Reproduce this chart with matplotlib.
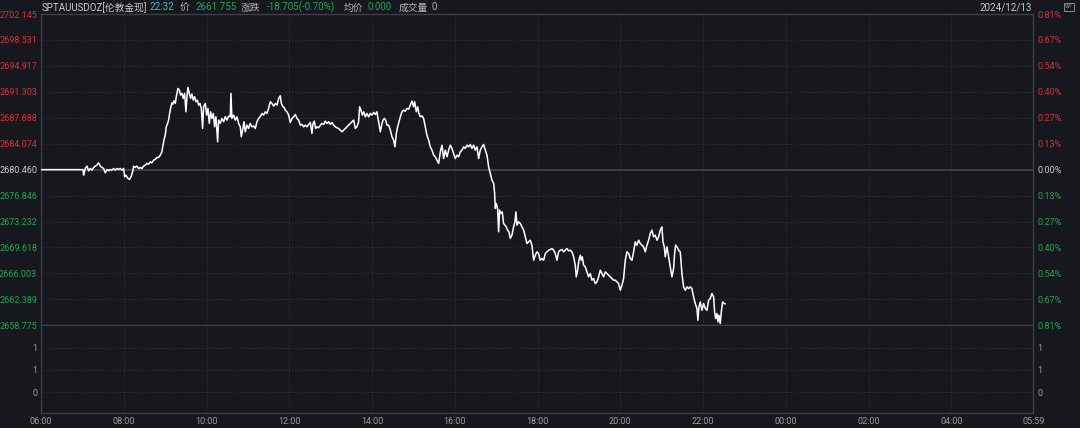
import matplotlib
matplotlib.use("Agg")
import matplotlib.pyplot as plt
from matplotlib.ticker import FixedLocator, FixedFormatter

plt.rcParams['font.family'] = ['Roboto', 'Noto Sans CJK SC', 'DejaVu Sans']

# ---- data ----
prev_close = 2680.460
price_levels = [2702.145, 2698.531, 2694.917, 2691.303, 2687.688, 2684.074, 2680.460,
                2676.846, 2673.232, 2669.618, 2666.003, 2662.389, 2658.775]
pct_labels = ['0.81%', '0.67%', '0.54%', '0.40%', '0.27%', '0.13%', '0.00%',
              '0.13%', '0.27%', '0.40%', '0.54%', '0.67%', '0.81%']
time_ticks = [0, 120, 240, 360, 480, 600, 720, 840, 960, 1080, 1200, 1320, 1439]
time_labels = ['06:00', '08:00', '10:00', '12:00', '14:00', '16:00', '18:00',
               '20:00', '22:00', '00:00', '02:00', '04:00', '05:59']
vol_ticks = [0, 0.5, 1.0]
vol_labels = ['0', '1', '1']

# minutes since 06:00
minutes = [
    0, 60.5, 61.4, 63.8, 66.2, 68.6, 71.1, 73.5, 75.9, 78.3, 80.7, 83.1, 85.6, 88.0, 90.4,
    92.8, 95.2, 97.7, 100.1, 102.5, 104.9, 107.3, 109.7, 112.2, 114.6, 117.0, 119.4, 120.9,
    122.8, 125.7, 128.1, 130.5, 132.5, 133.9, 136.3, 138.7, 141.2, 143.6, 146.0, 148.4,
    150.8, 153.3, 155.7, 158.1, 160.5, 162.9, 165.3, 167.8, 170.2, 172.6, 175.0, 176.5,
    177.9, 179.8, 181.3, 183.2, 184.7, 186.1, 188.1, 189.5, 191.0, 192.4, 194.4, 195.8,
    198.2, 200.2, 202.1, 204.0, 206.0, 207.9, 209.8, 211.3, 212.7, 214.7, 216.6, 218.5,
    220.5, 222.4, 224.3, 226.3, 228.2, 230.1, 232.1, 234.0, 235.4, 237.9, 239.8, 241.7,
    243.7, 245.6, 247.5, 249.5, 251.4, 253.3, 255.8, 257.2, 259.6, 262.0, 264.5, 266.9,
    269.3, 271.7, 274.1, 275.1, 276.5, 279.0, 281.4, 283.8, 286.2, 288.6, 290.1, 292.0,
    294.0, 295.9, 298.3, 300.7, 303.1, 305.6, 308.0, 310.4, 312.8, 315.2, 317.6, 320.1,
    322.5, 324.9, 327.3, 329.7, 332.1, 334.6, 337.0,
    339.5, 341.9, 344.3, 346.7, 348.2, 350.6, 352.5, 354.0, 356.4, 358.8, 361.2, 363.6,
    366.0, 368.5, 370.9, 373.3, 375.7, 378.1, 380.6, 383.0, 385.4, 387.8, 390.2, 392.6,
    394.1, 396.0, 398.0, 399.9, 402.3, 404.7, 407.1, 409.6, 412.0, 414.4, 416.8, 419.2,
    421.6, 424.1, 426.5, 428.9, 431.3, 433.7, 436.2, 438.6, 441.0, 443.4, 445.8, 448.2,
    450.7, 453.1, 455.5, 457.9, 460.3, 461.8, 463.7, 465.7, 467.6, 470.0, 472.4, 474.8,
    477.3, 479.7, 482.1, 484.5, 486.9, 488.4, 489.8, 491.8, 493.7, 495.6, 497.6, 499.5,
    501.4, 503.8, 506.3, 508.7, 511.1, 513.0, 515.0, 516.9, 518.8, 520.8, 523.2, 525.6,
    528.0, 530.4, 532.9, 535.3, 537.7, 540.1, 541.6, 544.0, 545.9, 547.8, 549.8, 552.2,
    554.6, 557.0, 559.4, 561.9, 564.3, 566.7, 569.1, 571.5, 573.9, 576.4, 578.8, 581.2,
    583.6, 586.0, 588.5, 590.9, 593.3, 595.7, 598.1, 600.5, 603.0, 605.4, 607.8, 610.2,
    612.6, 615.0, 617.5, 619.9, 622.3, 624.7, 627.1, 629.6, 632.0, 634.4, 636.8, 639.2,
    641.6, 644.1, 646.5, 648.9,
    653.7, 656.2, 657.6, 658.6, 660.0, 661.9, 663.4, 664.8, 666.8, 668.7, 670.6, 672.6,
    674.5, 676.4, 678.4, 680.3, 682.7, 685.1, 687.1, 688.5, 690.0, 692.4, 694.8, 697.2,
    699.7, 702.1, 704.5, 706.9, 709.3, 711.7, 714.2, 716.6, 719.0, 721.4, 723.8, 726.2,
    728.7, 731.1, 733.5, 735.9, 738.3, 740.8, 743.2, 745.6, 748.0, 750.4, 752.8, 755.3,
    757.7, 760.1, 762.5, 764.9, 767.3, 769.8, 772.2, 774.6, 776.0, 778.0, 779.9, 781.9,
    783.3, 784.8, 786.7, 789.1, 791.5, 793.9, 796.4, 798.8, 801.2, 803.6, 806.0, 808.4,
    810.9, 813.3, 815.7, 818.1, 820.5, 823.0, 825.4, 827.8, 830.2, 832.6, 835.0, 837.5,
    839.9, 842.3, 844.7, 847.1, 849.5, 852.0, 854.4, 856.8, 859.2, 861.6, 864.0, 866.5,
    868.9, 871.3, 873.7, 876.1, 878.6, 881.0, 883.4, 885.8, 888.2, 890.6, 893.1, 895.5,
    897.9, 900.3, 901.8, 903.7, 905.1, 907.6, 910.0, 912.4, 914.8, 917.2, 918.7, 920.1,
    922.1, 924.5, 926.9, 929.3, 931.7, 934.2, 936.6, 939.0, 941.4, 943.8, 946.2, 948.7,
    951.1, 952.5, 954.0, 955.9, 958.3, 960.7, 963.2, 965.6, 968.0, 970.4, 972.8, 975.3,
    976.7, 978.2, 980.1, 981.5, 983.0, 984.9, 986.4, 988.3, 990.7, 992.0,
]

prices = [
    2680.46, 2680.46, 2679.69, 2680.62, 2680.95, 2680.30, 2680.62, 2680.39, 2680.76, 2680.95,
    2681.09, 2681.41, 2680.95, 2680.76, 2680.62, 2680.02, 2680.48, 2680.30, 2680.48, 2680.39,
    2680.62, 2680.39, 2680.62, 2680.48, 2680.62, 2680.39, 2680.62, 2679.46, 2679.69, 2679.23,
    2679.09, 2679.55, 2680.16, 2680.95, 2680.76, 2680.95, 2680.62, 2680.76, 2680.62, 2680.95,
    2681.09, 2681.32, 2681.23, 2681.55, 2681.41, 2681.78, 2681.88, 2682.16, 2682.16, 2682.48,
    2682.95, 2683.88, 2684.57, 2685.27, 2686.43, 2686.90, 2687.36, 2688.29, 2689.22, 2689.78,
    2689.59, 2690.06, 2689.69, 2690.62, 2691.78, 2691.55, 2690.85, 2691.08, 2690.38, 2691.08,
    2688.52, 2690.62, 2691.92, 2691.08, 2690.38, 2690.99, 2690.15, 2690.62, 2689.92, 2690.15,
    2689.45, 2689.69, 2688.99, 2686.20, 2689.22, 2689.69, 2688.06, 2688.99, 2686.90, 2688.52,
    2687.59, 2688.29, 2686.43, 2687.83, 2684.34, 2687.36, 2686.90, 2687.59, 2687.13, 2687.83,
    2687.36, 2687.92, 2687.83, 2691.08, 2687.59, 2688.06, 2687.36, 2687.83, 2686.90, 2686.43,
    2685.04, 2685.97, 2687.13, 2685.74, 2686.67, 2686.20, 2686.90, 2686.43, 2686.53, 2686.20,
    2687.13, 2687.59, 2687.83, 2688.29, 2688.06, 2688.52, 2688.29, 2688.99, 2689.92, 2689.69,
    2689.31,
    2689.68, 2689.45, 2690.38, 2690.75, 2689.68, 2689.22, 2689.08, 2688.75, 2688.52, 2688.06,
    2687.03, 2687.59, 2687.82, 2688.15, 2687.59, 2687.36, 2686.66, 2686.76, 2686.43, 2686.66,
    2686.43, 2686.76, 2687.03, 2685.50, 2686.89, 2687.22, 2686.20, 2686.43, 2686.29, 2686.66,
    2686.89, 2686.76, 2687.22, 2686.89, 2687.13, 2686.76, 2687.03, 2686.66, 2686.43, 2686.29,
    2686.20, 2685.97, 2685.73, 2685.97, 2686.20, 2686.43, 2686.66, 2686.89, 2687.13, 2687.36,
    2686.20, 2686.43, 2687.13, 2689.22, 2688.75, 2688.06, 2688.52, 2687.82, 2688.29, 2687.82,
    2688.29, 2688.06, 2688.43, 2688.15, 2688.52, 2687.59, 2686.89, 2685.73, 2686.66, 2687.36,
    2687.59, 2687.36, 2686.66, 2686.66, 2685.97, 2685.04, 2684.57, 2683.64, 2685.50, 2686.43,
    2687.13, 2687.82, 2688.52, 2688.75, 2688.61, 2688.99, 2688.89, 2689.45, 2690.01, 2689.22,
    2689.92, 2688.52, 2689.22, 2688.29, 2687.82, 2687.96, 2687.59, 2686.43, 2685.27, 2684.57,
    2683.64, 2683.18, 2682.48, 2682.25, 2681.78, 2681.32, 2682.94, 2683.87, 2682.01, 2683.18,
    2682.25, 2683.18, 2683.87, 2683.41, 2682.71, 2682.01, 2682.48, 2682.25, 2682.94, 2683.18,
    2683.64, 2683.41, 2683.87, 2683.64, 2683.97, 2683.41, 2683.87, 2683.18, 2683.64, 2682.01,
    2683.18, 2683.64, 2683.97, 2683.18, 2682.48, 2680.85,
    2679.00, 2678.54, 2677.14, 2675.05, 2675.75, 2675.05, 2671.80, 2674.82, 2674.35, 2674.58,
    2672.96, 2672.73, 2672.49, 2672.03, 2671.80, 2670.87, 2671.33, 2672.49, 2673.19, 2674.58,
    2672.73, 2673.19, 2672.96, 2672.49, 2672.03, 2671.10, 2670.17, 2670.40, 2670.63, 2669.94,
    2667.84, 2668.54, 2669.01, 2668.77, 2667.84, 2668.08, 2667.84, 2668.77, 2669.01, 2669.24,
    2669.33, 2669.47, 2669.24, 2668.77, 2667.84, 2669.01, 2669.24, 2669.33, 2669.01, 2669.24,
    2669.47, 2669.15, 2669.24, 2669.01, 2668.31, 2667.15, 2665.52, 2666.45, 2667.84, 2668.54,
    2667.84, 2668.31, 2667.15, 2666.92, 2666.22, 2665.52, 2665.99, 2665.06, 2665.29, 2664.59,
    2664.82, 2665.52, 2666.45, 2665.99, 2665.52, 2666.22, 2665.99, 2665.75, 2665.52, 2665.29,
    2665.06, 2665.06, 2664.82, 2664.59, 2663.66, 2664.36, 2665.29, 2667.84, 2669.01, 2668.77,
    2668.08, 2667.84, 2669.01, 2670.40, 2669.94, 2670.63, 2670.17, 2669.94, 2669.70, 2669.01,
    2669.94, 2670.63, 2671.56, 2672.03, 2671.10, 2671.33, 2670.63, 2671.10, 2672.03, 2672.49,
    2670.40, 2669.70, 2668.31, 2669.70, 2668.31, 2666.92, 2665.52, 2666.68, 2668.77, 2669.94,
    2669.70, 2669.24, 2669.01, 2665.99, 2664.13, 2663.66, 2664.13, 2663.89, 2664.13, 2663.89,
    2662.73, 2661.80, 2661.11, 2659.48, 2661.34, 2662.03, 2660.87, 2661.80, 2661.11, 2660.87,
    2662.27, 2662.50, 2663.20, 2662.73, 2660.64, 2659.71, 2660.41, 2659.25, 2660.18, 2659.01,
    2660.64, 2662.03, 2661.80, 2661.76,
]

header = [
    ('SPTAUUSDOZ[伦敦金现]', 42, '#c9cbcf'),
    ('22:32', 149, '#3db8c8'),
    ('价', 180, '#b4b6ba'),
    ('2661.755', 195, '#22a55a'),
    ('涨跌', 241, '#b4b6ba'),
    ('-18.705(-0.70%)', 267, '#22a55a'),
    ('均价', 344, '#b4b6ba'),
    ('0.000', 368, '#22a55a'),
    ('成交量', 399, '#b4b6ba'),
    ('0', 432, '#b4b6ba'),
]

# ---- style ----
BG = '#16181d'
GRID = '#33363c'
FRAME = '#3c3f45'
RED = '#d7303c'
GREEN = '#1fa556'
GRAY = '#9a9ca1'
W, H = 1080, 428

fig = plt.figure(figsize=(W / 100, H / 100), dpi=100, facecolor=BG)
left, right = 41.3 / W, 1033.3 / W
ax = fig.add_axes([left, (H - 325.3) / H, right - left, 311.3 / H], facecolor=BG)
axv = fig.add_axes([left, (H - 413.3) / H, right - left, 88 / H], facecolor=BG)

for a in (ax, axv):
    for s in a.spines.values():
        s.set_color(FRAME)
        s.set_linewidth(1.0)
    a.set_xlim(0, 1439)
    a.tick_params(length=0, labelsize=6.5, colors=GRAY)
    for t in time_ticks[1:-1]:
        a.axvline(t, color=GRID, lw=0.7, ls=(0, (1, 2)), zorder=1)

# price panel
ax.set_ylim(price_levels[-1], price_levels[0])
ax.set_yticks(price_levels)
ax.set_yticklabels(['%.3f' % v for v in price_levels])
ax.tick_params(axis='y', pad=3)
ax.set_xticks([])
for v in price_levels[1:-1]:
    if v != prev_close:
        ax.axhline(v, color=GRID, lw=0.7, ls=(0, (1, 2)), zorder=1)
ax.axhline(prev_close, color='#44464b', lw=1.2, zorder=1)

axr = ax.twinx()
axr.set_ylim(ax.get_ylim())
axr.set_yticks(price_levels)
axr.set_yticklabels(pct_labels)
axr.tick_params(length=0, labelsize=6.5, pad=3)
for s in axr.spines.values():
    s.set_visible(False)

for lab_l, lab_r, v in zip(ax.get_yticklabels(), axr.get_yticklabels(), price_levels):
    c = RED if v > prev_close else (GREEN if v < prev_close else '#c9cbcf')
    lab_l.set_color(c)
    lab_r.set_color(c)

ax.plot(minutes, prices, color='white', lw=1.1, zorder=3, solid_joinstyle='round')

# volume panel (no volume)
axv.set_ylim(-0.48, 1.505)
axv.yaxis.set_major_locator(FixedLocator(vol_ticks))
axv.yaxis.set_major_formatter(FixedFormatter(vol_labels))
axv.tick_params(axis='y', pad=3, labelright=True)
for v in vol_ticks:
    axv.axhline(v, color=GRID, lw=0.7, ls=(0, (1, 2)), zorder=1)
axv.set_xticks(time_ticks)
axv.set_xticklabels(time_labels)
axv.tick_params(axis='x', pad=3)

# header
for txt, x, c in header:
    fig.text(x / W, 1 - 7.5 / H, txt, color=c, fontsize=7, ha='left', va='center')
fig.text(1032 / W, 1 - 7.5 / H, '2024/12/13', color='#c9cbcf', fontsize=7,
         ha='right', va='center')
fig.text(1069 / W, 1 - 7 / H, 'WP', color='#9a9ca1', fontsize=3.5, ha='center',
         va='center', bbox=dict(boxstyle='square,pad=0.35', fc=BG, ec='#9a9ca1', lw=0.6))

fig.savefig('out.png', dpi=100, facecolor=BG)
